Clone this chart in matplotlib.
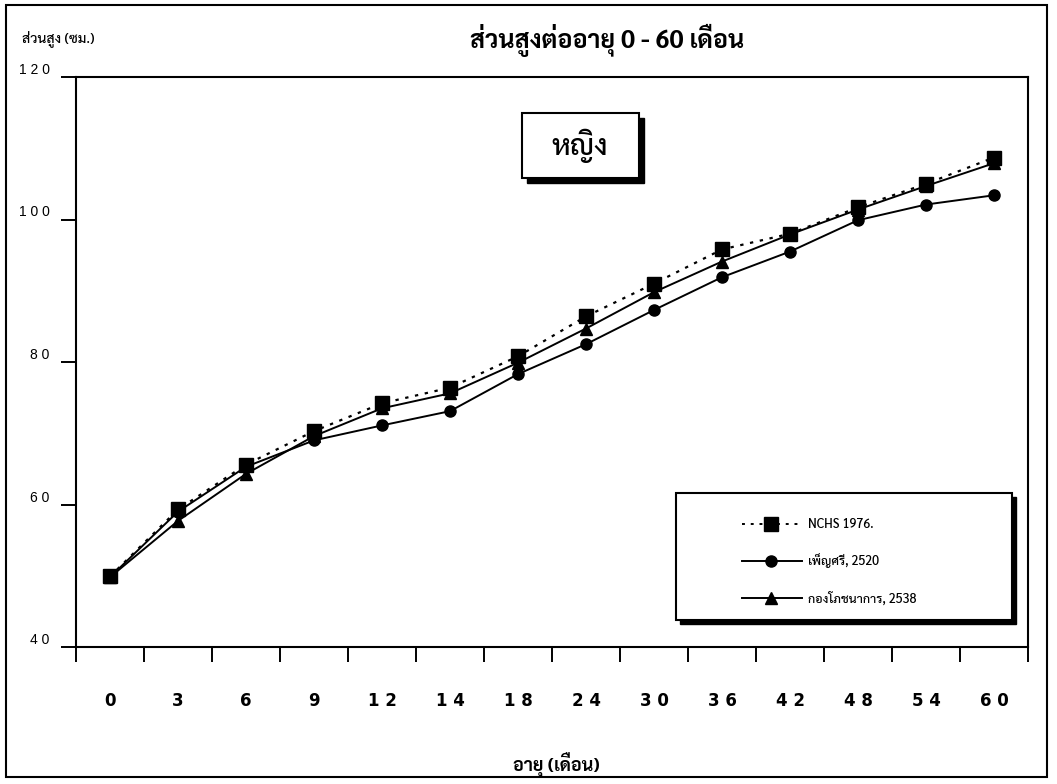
import matplotlib
matplotlib.use('Agg')
import os
import matplotlib.pyplot as plt
from matplotlib import font_manager
from matplotlib.patches import Rectangle
from matplotlib.lines import Line2D
from fontTools.ttLib import TTFont

W, H = 1057, 784

ages = ['0', '3', '6', '9', '12', '14', '18', '24', '30', '36', '42', '48', '54', '60']
nchs = [49.9, 59.3, 65.6, 70.3, 74.2, 76.4, 80.8, 86.4, 91.0, 95.8, 98.0, 101.7, 105.0, 108.7]
pennsri = [49.8, 59.0, 65.3, 69.0, 71.1, 73.1, 78.3, 82.5, 87.3, 91.9, 95.5, 99.9, 102.1, 103.4]
kong = [49.8, 57.7, 64.3, 69.6, 73.5, 75.6, 79.9, 84.7, 89.8, 94.1, 97.9, 101.4, 104.7, 107.9]
yticks = [40, 60, 80, 100, 120]
labels = ['NCHS 1976.', 'เพ็ญศรี, 2520', 'กองโภชนาการ, 2538']


# look for installed fonts that have thai glyphs
def thai_font_paths():
    found = []
    for path in font_manager.findSystemFonts():
        try:
            cmap = TTFont(path, fontNumber=0, lazy=True).getBestCmap()
            if cmap and 0x0E2B in cmap:
                found.append(path)
        except Exception:
            continue
    return sorted(found)


def pick(paths, want_bold):
    prefer = ['Norasi', 'Kinnari', 'Laksaman', 'Sarabun', 'SerifThai', 'Garuda', 'Loma', 'SansThai']
    slanted = ('Italic', 'Oblique', 'Light', 'Thin')
    cands = [p for p in paths if not any(s in os.path.basename(p) for s in slanted)]
    if want_bold:
        cands = [p for p in cands if 'Bold' in os.path.basename(p)] or cands
    else:
        cands = [p for p in cands if 'Bold' not in os.path.basename(p)] or cands
    for name in prefer:
        for p in cands:
            if name.lower() in os.path.basename(p).lower():
                return p
    return cands[0] if cands else None


paths = thai_font_paths()
pb, pr = pick(paths, True), pick(paths, False)
fp_bold = font_manager.FontProperties(fname=pb) if pb else font_manager.FontProperties(weight='bold')
fp_reg = font_manager.FontProperties(fname=pr) if pr else font_manager.FontProperties()


def fx(x):
    return x / W


def fy(y):
    return 1 - y / H


def spaced(s):
    return ' '.join(s)


fig = plt.figure(figsize=(W / 100, H / 100), dpi=100)
ax = fig.add_axes([fx(76), fy(647), fx(1028) - fx(76), fy(77) - fy(647)])

x = list(range(len(ages)))
ax.plot(x, nchs, color='black', linestyle=(0, (1.5, 3)), linewidth=1.6,
        marker='s', markersize=10, zorder=3)
ax.plot(x, pennsri, color='black', linestyle='-', linewidth=1.4,
        marker='o', markersize=8, zorder=3)
ax.plot(x, kong, color='black', linestyle='-', linewidth=1.4,
        marker='^', markersize=8, zorder=3)

ax.set_xlim(-0.5, len(ages) - 0.5)
ax.set_ylim(40, 120)

# category labels in the middle, tick marks on the boundaries
ax.set_xticks(x)
ax.set_xticklabels([spaced(a) for a in ages], fontsize=12, fontweight='bold',
                   family=['Liberation Sans Narrow', 'DejaVu Sans Condensed'])
ax.tick_params(axis='x', which='major', length=0, pad=39)
ax.set_xticks([i - 0.5 for i in range(len(ages) + 1)], minor=True)
ax.tick_params(axis='x', which='minor', length=11, width=1.4, direction='out')
for lab in ax.get_xticklabels():
    lab.set_verticalalignment('center')

ax.set_yticks(yticks)
ax.set_yticklabels([spaced(str(v)) for v in yticks], fontsize=10,
                   family=['Liberation Sans', 'DejaVu Sans'])
ax.tick_params(axis='y', length=11, width=1.4, direction='out', pad=8)
for lab in ax.get_yticklabels():
    lab.set_verticalalignment('bottom')

for sp in ax.spines.values():
    sp.set_linewidth(1.5)

# titles and axis names
fig.text(fx(607), fy(40), 'ส่วนสูงต่ออายุ 0 - 60 เดือน', fontproperties=fp_bold,
         fontsize=18, ha='center', va='center')
fig.text(fx(22), fy(40), 'ส่วนสูง (ซม.)', fontproperties=fp_reg,
         fontsize=10, ha='left', va='center')
fig.text(fx(556), fy(765), 'อายุ (เดือน)', fontproperties=fp_bold,
         fontsize=13, ha='center', va='center')

# box with the sex label
fig.add_artist(Rectangle((fx(527), fy(183)), fx(117), fy(113) - fy(178),
                         transform=fig.transFigure, facecolor='black', edgecolor='black'))
fig.add_artist(Rectangle((fx(522), fy(178)), fx(117), fy(113) - fy(178),
                         transform=fig.transFigure, facecolor='white', edgecolor='black',
                         linewidth=1.5))
fig.text(fx(580), fy(146), 'หญิง', fontproperties=fp_reg, fontsize=21,
         ha='center', va='center')

# legend drawn by hand
lx0, ly0, lx1, ly1 = 676, 493, 1012, 620
fig.add_artist(Rectangle((fx(lx0 + 4), fy(ly1 + 4)), fx(lx1 - lx0), fy(ly0) - fy(ly1),
                         transform=fig.transFigure, facecolor='black', edgecolor='black'))
fig.add_artist(Rectangle((fx(lx0), fy(ly1)), fx(lx1 - lx0), fy(ly0) - fy(ly1),
                         transform=fig.transFigure, facecolor='white', edgecolor='black',
                         linewidth=1.5))
styles = [((0, (1.5, 3)), 's', 10), ('-', 'o', 8), ('-', '^', 8)]
for i, (lab, (ls, mk, ms)) in enumerate(zip(labels, styles)):
    yy = 524 + i * 37
    fig.add_artist(Line2D([fx(742), fx(802)], [fy(yy), fy(yy)], transform=fig.transFigure,
                          color='black', linestyle=ls, linewidth=1.4))
    fig.add_artist(Line2D([fx(771)], [fy(yy)], transform=fig.transFigure, color='black',
                          marker=mk, markersize=ms))
    fig.text(fx(808), fy(yy), lab, fontproperties=fp_reg, fontsize=9,
             ha='left', va='center')

# frame round the whole picture
fig.add_artist(Rectangle((fx(6), fy(777)), fx(1047 - 6), fy(5) - fy(777),
                         transform=fig.transFigure, facecolor='none', edgecolor='black',
                         linewidth=1.5))

fig.savefig('out.png', dpi=100)
